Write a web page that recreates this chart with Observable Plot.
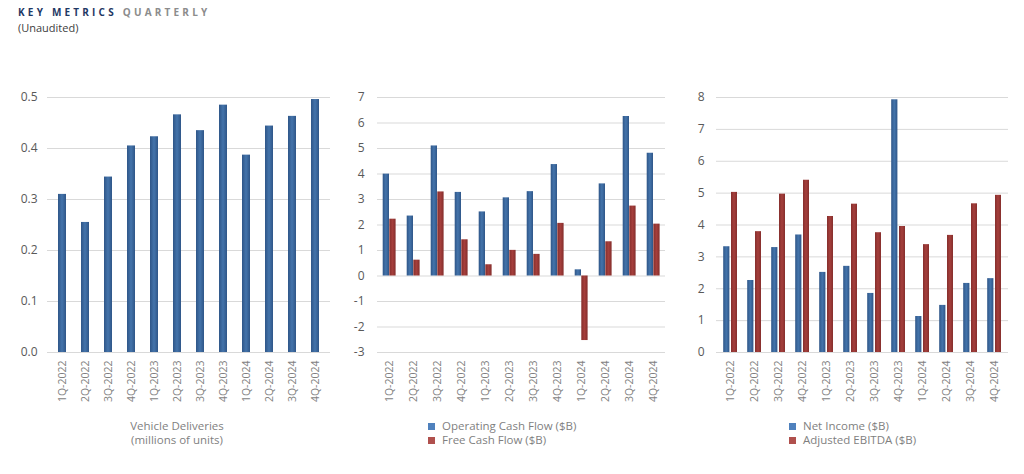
<!DOCTYPE html>
<html><head><meta charset="utf-8">
<script src="https://cdn.jsdelivr.net/npm/d3@7"></script>
<script src="https://cdn.jsdelivr.net/npm/@observablehq/plot@0.6"></script>
<style>
body{margin:0;background:#fff;font-family:"Open Sans",sans-serif;}
#root{position:relative;width:1024px;height:474px;overflow:hidden;background:#fff}
.abs{position:absolute;white-space:nowrap}
.cap{font-size:11.5px;color:#7f7f7f;text-align:center;line-height:14px}
.leg{font-size:11.5px;color:#7f7f7f;line-height:14px}
.sw{display:inline-block;width:7px;height:7px;margin-right:7px;vertical-align:0px}
</style></head><body>
<svg width="0" height="0" style="position:absolute">
<defs>
<linearGradient id="gBlue" x1="0" x2="1" y1="0" y2="0">
<stop offset="0" stop-color="#2f5688"/><stop offset="0.5" stop-color="#4474ab"/><stop offset="1" stop-color="#2f5688"/>
</linearGradient>
<linearGradient id="gRed" x1="0" x2="1" y1="0" y2="0">
<stop offset="0" stop-color="#852e2c"/><stop offset="0.5" stop-color="#a53f3c"/><stop offset="1" stop-color="#852e2c"/>
</linearGradient>
</defs></svg>
<div id="root"></div>
<script>
// ---- data ----
const quarters = ["1Q-2022","2Q-2022","3Q-2022","4Q-2022","1Q-2023","2Q-2023","3Q-2023","4Q-2023","1Q-2024","2Q-2024","3Q-2024","4Q-2024"];
const deliveries = [0.310, 0.255, 0.344, 0.405, 0.423, 0.466, 0.435, 0.485, 0.387, 0.444, 0.463, 0.496];
const operatingCashFlow = [3.995, 2.351, 5.100, 3.278, 2.513, 3.065, 3.308, 4.370, 0.242, 3.612, 6.255, 4.814];
const freeCashFlow = [2.228, 0.621, 3.297, 1.420, 0.441, 1.005, 0.848, 2.064, -2.531, 1.342, 2.742, 2.034];
const netIncome = [3.318, 2.259, 3.292, 3.687, 2.513, 2.703, 1.853, 7.928, 1.129, 1.478, 2.167, 2.317];
const adjustedEbitda = [5.023, 3.791, 4.968, 5.404, 4.267, 4.653, 3.758, 3.953, 3.384, 3.674, 4.665, 4.931];
const ticks1 = [0, 0.1, 0.2, 0.3, 0.4, 0.5];
const ticks2 = [-3, -2, -1, 0, 1, 2, 3, 4, 5, 6, 7];
const ticks3 = [0, 1, 2, 3, 4, 5, 6, 7, 8];

const root = document.getElementById("root");
function add(html, style, cls) {
  const d = document.createElement("div");
  d.className = "abs " + (cls || "");
  Object.assign(d.style, style);
  d.innerHTML = html;
  root.appendChild(d);
  return d;
}

// title
add('<span style="color:#1f3864">KEY METRICS</span> <span style="color:#8c8c8c">QUARTERLY</span>',
  {left:"18px", top:"5px", fontSize:"10px", fontWeight:"700", letterSpacing:"3.2px"});
add('(Unaudited)', {left:"18px", top:"20px", fontSize:"11px", color:"#404040"});

const H = 330, MB = 58, MT = 17;
const intFmt = d => String(d);
function common(domain, xOpts) {
  return {
    height: H, marginTop: MT, marginBottom: MB,
    style: {fontFamily: "Open Sans", fontSize: "12px", color: "#595959", background: "transparent"},
    x: Object.assign({domain: quarters, label: null}, xOpts),
    y: {domain, label: null}
  };
}
function axes(ticks, fmt, pad) {
  return [
    Plot.axisY({ticks, tickFormat: fmt, tickSize: 0, tickPadding: pad, fill: "#595959", fontSize: 12}),
    Plot.axisX({tickSize: 0, tickRotate: -90, tickPadding: 8, fill: "#7f7f7f", fontSize: 10.5})
  ];
}
function place(svg, left) {
  const w = document.createElement("div");
  w.className = "abs";
  w.style.left = left + "px"; w.style.top = "80px";
  w.appendChild(svg);
  root.appendChild(w);
}

// Chart 1: deliveries
const d1 = quarters.map((q, i) => ({q, v: deliveries[i]}));
const p1 = Plot.plot(Object.assign(common([0, 0.5], {paddingInner: 0.66, paddingOuter: 0.33}), {
  width: 340, marginLeft: 47, marginRight: 10,
  marks: [
    Plot.gridY(ticks1, {stroke: "#d9d9d9", strokeOpacity: 1}),
    Plot.barY(d1, {x: "q", y: "v", fill: "url(#gBlue)"}),
    ...axes(ticks1, d => d.toFixed(1), 10)
  ]
}));
place(p1, 0);

// Chart 2: cash flow
const d2 = quarters.map((q, i) => ({q, ocf: operatingCashFlow[i], fcf: freeCashFlow[i]}));
const p2 = Plot.plot(Object.assign(common([-3, 7], {padding: 0}), {
  width: 340, marginLeft: 37, marginRight: 15,
  marks: [
    Plot.gridY(ticks2, {stroke: "#d9d9d9", strokeOpacity: 1}),
    Plot.barY(d2, {x: "q", y: "ocf", fill: "url(#gBlue)", insetLeft: 5.7, insetRight: 12}),
    Plot.barY(d2, {x: "q", y: "fcf", fill: "url(#gRed)", insetLeft: 12.3, insetRight: 5.4}),
    ...axes(ticks2, intFmt, 13)
  ]
}));
place(p2, 340);

// Chart 3: income
const d3data = quarters.map((q, i) => ({q, ni: netIncome[i], eb: adjustedEbitda[i]}));
const p3 = Plot.plot(Object.assign(common([0, 8], {padding: 0}), {
  width: 344, marginLeft: 36, marginRight: 16,
  marks: [
    Plot.gridY(ticks3, {stroke: "#d9d9d9", strokeOpacity: 1}),
    Plot.barY(d3data, {x: "q", y: "ni", fill: "url(#gBlue)", insetLeft: 5.2, insetRight: 12.6}),
    Plot.barY(d3data, {x: "q", y: "eb", fill: "url(#gRed)", insetLeft: 13, insetRight: 5}),
    ...axes(ticks3, intFmt, 12)
  ]
}));
place(p3, 680);

// captions / legends
add('Vehicle Deliveries<br>(millions of units)', {left:"97px", top:"419px", width:"160px"}, "cap");
add('<span class="sw" style="background:#4f81bd"></span>Operating Cash Flow ($B)<br><span class="sw" style="background:#b0504d"></span>Free Cash Flow ($B)',
  {left:"428px", top:"419px"}, "leg");
add('<span class="sw" style="background:#4f81bd"></span>Net Income ($B)<br><span class="sw" style="background:#b0504d"></span>Adjusted EBITDA ($B)',
  {left:"789px", top:"419px"}, "leg");
</script>
</body></html>
